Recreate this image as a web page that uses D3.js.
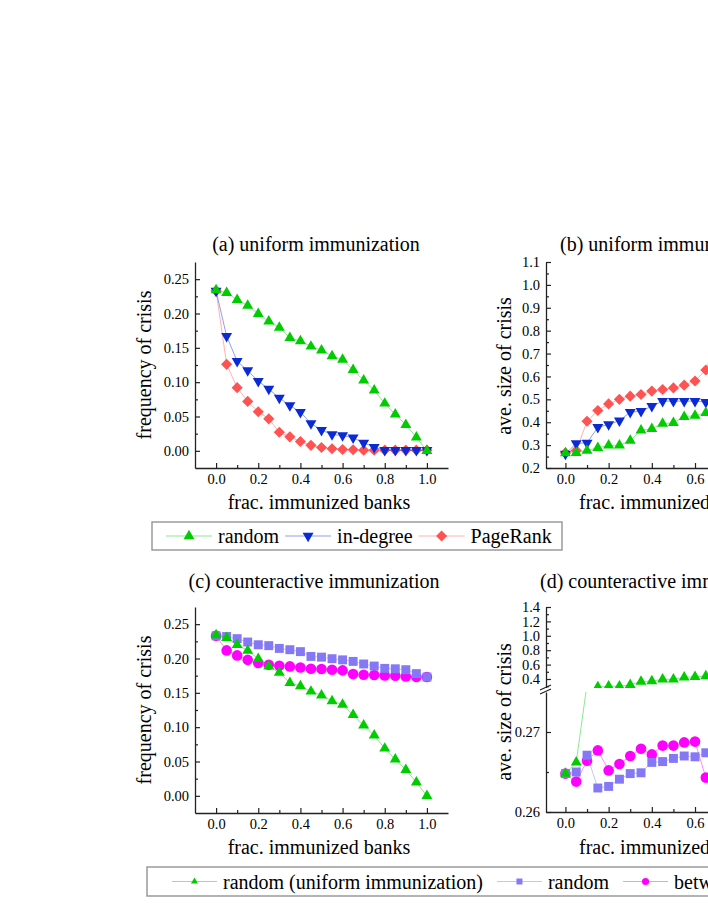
<!DOCTYPE html>
<html>
<head>
<meta charset="utf-8">
<script src="https://cdn.jsdelivr.net/npm/d3@7/dist/d3.min.js"></script>
<style>
  body { margin: 0; background: #fff; }
  text { font-family: "Liberation Serif", "Times New Roman", serif; fill: #000; }
</style>
</head>
<body>
<svg id="chart" width="708" height="917"></svg>
<script>
// fraction of immunized banks
var fracs = [0, 0.05, 0.1, 0.15, 0.2, 0.25, 0.3, 0.35, 0.4, 0.45, 0.5,
             0.55, 0.6, 0.65, 0.7, 0.75, 0.8, 0.85, 0.9, 0.95, 1.0]

// (a) frequency of crisis, uniform immunization  (same "random" curve reused in (c))
var freqRandom   = [0.234, 0.230, 0.220, 0.2115, 0.1995, 0.1885, 0.1795, 0.1645, 0.160, 0.152, 0.1465,
                    0.138, 0.133, 0.118, 0.1025, 0.088, 0.069, 0.053, 0.038, 0.0196, 0.0]
var freqInDegree = [0.233, 0.167, 0.1305, 0.117, 0.1015, 0.090, 0.077, 0.066, 0.0563, 0.040, 0.030,
                    0.0238, 0.0223, 0.019, 0.0117, 0.0053, 0.001, 0.001, 0.001, 0.001, 0.001]
var freqPageRank = [0.233, 0.126, 0.092, 0.072, 0.057, 0.0466, 0.027, 0.0204, 0.0136, 0.008, 0.0048,
                    0.003, 0.002, 0.0015, 0.001, 0.001, 0.001, 0.001, 0.001, 0.001, 0.001]

// (b) ave. size of crisis, uniform immunization (visible part, 0 .. 0.7)
var sizeRandom   = [0.2648, 0.2662, 0.276, 0.288, 0.299, 0.299, 0.32, 0.365, 0.371, 0.394, 0.397,
                    0.424, 0.429, 0.441, 0.445]
var sizeInDegree = [0.262, 0.307, 0.31, 0.378, 0.39, 0.407, 0.444, 0.448, 0.47, 0.492, 0.492,
                    0.492, 0.492, 0.488, 0.49]
var sizePageRank = [0.266, 0.276, 0.404, 0.451, 0.48, 0.5, 0.514, 0.521, 0.536, 0.543, 0.55,
                    0.562, 0.58, 0.628, 0.75]

// (c) frequency of crisis, counteractive immunization
var freqCounterRandom = [0.233, 0.232, 0.2289, 0.224, 0.220, 0.2187, 0.2147, 0.2128, 0.21, 0.203, 0.202,
                         0.1997, 0.198, 0.1958, 0.192, 0.189, 0.1856, 0.185, 0.1837, 0.178, 0.173]
var freqBetweenness   = [0.233, 0.2118, 0.2045, 0.198, 0.1934, 0.191, 0.1895, 0.1885, 0.187, 0.185, 0.1846,
                         0.1837, 0.1827, 0.1774, 0.1764, 0.1759, 0.1754, 0.175, 0.1739, 0.173, 0.173]

// (d) ave. size of crisis, counteractive immunization (visible part, 0 .. 0.65)
var sizeCounterRandom = [0.2648, 0.265, 0.2671, 0.263, 0.2632, 0.2641, 0.2648, 0.2649, 0.2662, 0.2663,
                         0.2667, 0.267, 0.2669, 0.2674]
var sizeBetweenness   = [0.2648, 0.2638, 0.2664, 0.2677, 0.2652, 0.266, 0.267, 0.2679, 0.2672, 0.2683,
                         0.2683, 0.2687, 0.2688, 0.2643]

var xTicks = [0, 0.2, 0.4, 0.6, 0.8, 1.0]
var xMinor = [0.1, 0.3, 0.5, 0.7, 0.9]

var green = "#00cc00", blue = "#0a2ad6", red = "#ff5252", purple = "#8478f5", magenta = "#ff00ff"
var axisColor = "#222"

var svg = d3.select("#chart")

function styleAxis(g) {
  g.select(".domain").attr("stroke", axisColor).attr("stroke-width", 1.3)
  g.selectAll(".tick line").attr("stroke", axisColor).attr("stroke-width", 1.2)
  g.selectAll(".tick text").style("font-family", '"Liberation Serif", serif').style("font-size", "14.5px").attr("fill", "#000")
}

function bottomAxis(x, yPos) {
  var g = svg.append("g").attr("transform", "translate(0," + yPos + ")")
  g.call(d3.axisBottom(x).tickValues(xTicks).tickFormat(d3.format(".1f"))
    .tickSizeInner(-5).tickSizeOuter(0).tickPadding(6))
  styleAxis(g)
  var m = svg.append("g").attr("transform", "translate(0," + yPos + ")")
  m.call(d3.axisBottom(x).tickValues(xMinor).tickFormat("").tickSizeInner(-3).tickSizeOuter(0))
  m.select(".domain").remove()
  styleAxis(m)
}

function leftAxis(y, xPos, ticks, minor, fmt) {
  var g = svg.append("g").attr("transform", "translate(" + xPos + ",0)")
  g.call(d3.axisLeft(y).tickValues(ticks).tickFormat(d3.format(fmt))
    .tickSizeInner(-5).tickSizeOuter(0).tickPadding(6))
  styleAxis(g)
  var m = svg.append("g").attr("transform", "translate(" + xPos + ",0)")
  m.call(d3.axisLeft(y).tickValues(minor).tickFormat("").tickSizeInner(-3).tickSizeOuter(0))
  m.select(".domain").remove()
  styleAxis(m)
}

// keep filters markers; lineKeep (optional) filters the points of the connecting line
function series(parent, x, y, vals, color, sym, size, rot, keep, lineKeep) {
  var pts = vals.map(function(v, i) { return [fracs[i], v] })
  var all = function() { return true }
  parent.append("path").datum(pts.filter(lineKeep || all))
    .attr("d", d3.line().x(function(d) { return x(d[0]) }).y(function(d) { return y(d[1]) }))
    .attr("fill", "none").attr("stroke", color).attr("stroke-opacity", 0.45).attr("stroke-width", 1)
  parent.selectAll(null)
    .data(pts.filter(keep || all))
    .enter().append("path")
      .attr("d", d3.symbol().type(sym).size(size))
      .attr("transform", function(d) { return "translate(" + x(d[0]) + "," + y(d[1]) + ") rotate(" + rot + ")" })
      .attr("fill", color)
}

function title(txt, x, y, anchor) {
  svg.append("text").attr("x", x).attr("y", y).attr("text-anchor", anchor)
    .style("font-size", "20px").text(txt)
}

function yLabel(txt, x, y) {
  svg.append("text").attr("transform", "translate(" + x + "," + y + ") rotate(-90)")
    .attr("text-anchor", "middle").style("font-size", "20px").text(txt)
}

var TRI = 52, DIA = 62, SQ = 80, CIR = 88

// ---------- (a) ----------
var xa = d3.scaleLinear().domain([-0.1, 1.1]).range([195, 448])
var ya = d3.scaleLinear().domain([-0.025, 0.275]).range([468, 262])
bottomAxis(xa, 468)
leftAxis(ya, 195, [0, 0.05, 0.1, 0.15, 0.2, 0.25], [0.025, 0.075, 0.125, 0.175, 0.225], ".2f")
var ga = svg.append("g")
series(ga, xa, ya, freqPageRank, red, d3.symbolSquare, DIA, 45)
series(ga, xa, ya, freqInDegree, blue, d3.symbolTriangle, TRI, 180)
series(ga, xa, ya, freqRandom, green, d3.symbolTriangle, TRI, 0)
title("(a) uniform immunization", 316, 251, "middle")
yLabel("frequency of crisis", 151, 365)
svg.append("text").attr("x", 319).attr("y", 509).attr("text-anchor", "middle")
  .style("font-size", "20px").text("frac. immunized banks")

// ---------- (b) ----------
var xb = d3.scaleLinear().domain([-0.09, 1.1]).range([546, 803])
var yb = d3.scaleLinear().domain([0.2, 1.1]).range([468, 262])
bottomAxis(xb, 468)
leftAxis(yb, 546, [0.2, 0.3, 0.4, 0.5, 0.6, 0.7, 0.8, 0.9, 1.0, 1.1],
         [0.25, 0.35, 0.45, 0.55, 0.65, 0.75, 0.85, 0.95, 1.05], ".1f")
var gb = svg.append("g")
series(gb, xb, yb, sizePageRank, red, d3.symbolSquare, DIA, 45)
series(gb, xb, yb, sizeInDegree, blue, d3.symbolTriangle, TRI, 180)
series(gb, xb, yb, sizeRandom, green, d3.symbolTriangle, TRI, 0)
title("(b) uniform immunization", 560, 251, "start")
yLabel("ave. size of crisis", 511, 366)
svg.append("text").attr("x", 579).attr("y", 509).style("font-size", "20px").text("frac. immunized banks")

// ---------- legend helper ----------
function legend(x0, y0, w, h, items, lineLen, gap, after) {
  svg.append("rect").attr("x", x0).attr("y", y0).attr("width", w).attr("height", h)
    .attr("fill", "#fff").attr("stroke", "#9a9a9a").attr("stroke-width", 1.5)
  var cy = y0 + h / 2, cx = x0 + gap
  items.forEach(function(it) {
    svg.append("line").attr("x1", cx).attr("x2", cx + lineLen).attr("y1", cy).attr("y2", cy)
      .attr("stroke", it.color).attr("stroke-opacity", 0.45).attr("stroke-width", 1)
    svg.append("path").attr("d", d3.symbol().type(it.sym).size(it.size))
      .attr("transform", "translate(" + (cx + lineLen / 2) + "," + cy + ") rotate(" + it.rot + ")")
      .attr("fill", it.color)
    var t = svg.append("text").attr("x", cx + lineLen + 6).attr("y", cy + 7)
      .style("font-size", "20px").text(it.label)
    cx = cx + lineLen + 6 + t.node().getComputedTextLength() + after
  })
}

legend(152, 522, 410, 28, [
  { label: "random", color: green, sym: d3.symbolTriangle, size: TRI, rot: 0 },
  { label: "in-degree", color: blue, sym: d3.symbolTriangle, size: TRI, rot: 180 },
  { label: "PageRank", color: red, sym: d3.symbolSquare, size: DIA, rot: 45 }
], 46, 14, 6)

// ---------- (c) ----------
var xc = d3.scaleLinear().domain([-0.1, 1.1]).range([195, 448])
var yc = d3.scaleLinear().domain([-0.025, 0.275]).range([813, 607])
bottomAxis(xc, 813)
leftAxis(yc, 195, [0, 0.05, 0.1, 0.15, 0.2, 0.25], [0.025, 0.075, 0.125, 0.175, 0.225], ".2f")
var gc = svg.append("g")
series(gc, xc, yc, freqBetweenness, magenta, d3.symbolCircle, CIR, 0)
series(gc, xc, yc, freqCounterRandom, purple, d3.symbolSquare, SQ, 0)
series(gc, xc, yc, freqRandom, green, d3.symbolTriangle, TRI, 0)
title("(c) counteractive immunization", 314, 588, "middle")
yLabel("frequency of crisis", 151, 710)
svg.append("text").attr("x", 319).attr("y", 854).attr("text-anchor", "middle")
  .style("font-size", "20px").text("frac. immunized banks")

// ---------- (d) broken y axis ----------
var xd = d3.scaleLinear().domain([-0.09, 1.1]).range([546, 803])
var ydLo = d3.scaleLinear().domain([0.26, 0.275]).range([812, 692])
var ydHi = d3.scaleLinear().domain([0.275, 1.4]).range([688, 607])
bottomAxis(xd, 812)
leftAxis(ydLo, 546, [0.26, 0.27], [0.265], ".2f")
leftAxis(ydHi, 546, [0.4, 0.6, 0.8, 1.0, 1.2, 1.4], [0.3, 0.5, 0.7, 0.9, 1.1, 1.3], ".1f")
var defs = svg.append("defs")
defs.append("clipPath").attr("id", "clipLo").append("rect")
  .attr("x", 547).attr("y", 692).attr("width", 200).attr("height", 120)
defs.append("clipPath").attr("id", "clipHi").append("rect")
  .attr("x", 547).attr("y", 600).attr("width", 200).attr("height", 88)
var gdLo = svg.append("g").attr("clip-path", "url(#clipLo)")
var gdHi = svg.append("g").attr("clip-path", "url(#clipHi)")
function inLo(d) { return d[1] <= 0.2752 }
function inHi(d) { return d[1] >= 0.285 }
series(gdLo, xd, ydLo, sizeBetweenness, magenta, d3.symbolCircle, CIR, 0)
series(gdLo, xd, ydLo, sizeCounterRandom, purple, d3.symbolSquare, SQ, 0)
series(gdLo, xd, ydLo, sizeRandom, green, d3.symbolTriangle, TRI, 0, inLo)
series(gdHi, xd, ydHi, sizeRandom, green, d3.symbolTriangle, TRI, 0, inHi, inHi)
// break marks
svg.append("rect").attr("x", 543).attr("y", 688).attr("width", 7).attr("height", 4).attr("fill", "#fff")
svg.append("path").attr("d", "M540,690L551,685M540,694L551,689")
  .attr("stroke", axisColor).attr("stroke-width", 1.2).attr("fill", "none")
title("(d) counteractive immunization", 540, 588, "start")
yLabel("ave. size of crisis", 511, 712)
svg.append("text").attr("x", 579).attr("y", 854).style("font-size", "20px").text("frac. immunized banks")

legend(147, 867, 640, 29, [
  { label: "random (uniform immunization)", color: green, sym: d3.symbolTriangle, size: 22, rot: 0 },
  { label: "random", color: purple, sym: d3.symbolSquare, size: 36, rot: 0 },
  { label: "betweenness", color: magenta, sym: d3.symbolCircle, size: 40, rot: 0 }
], 45, 25, 14)
</script>
</body>
</html>
